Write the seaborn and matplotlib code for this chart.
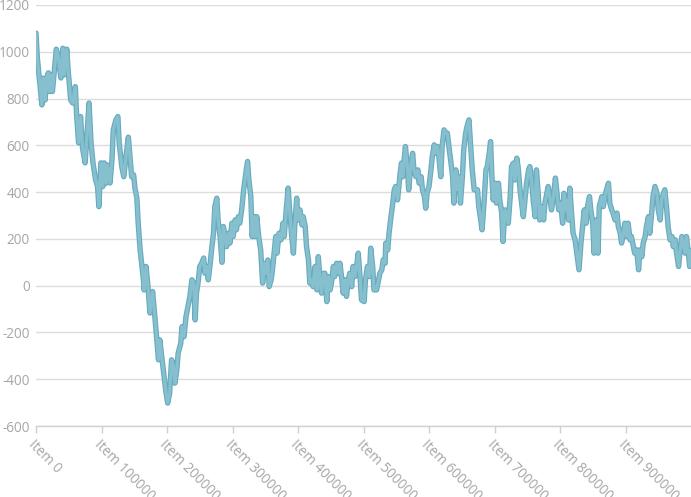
import matplotlib
matplotlib.use("Agg")
import matplotlib.pyplot as plt
import matplotlib.patheffects as pe
import seaborn as sns
import pandas as pd

# item position (thousands of items)
item_k = [0, 2, 9, 11, 14, 16, 19, 20, 23, 25, 27, 31, 34, 38, 41, 43, 47, 49, 53, 56,
          60, 62, 65, 68, 71, 75, 78, 81, 84, 87, 91, 94, 96, 99, 102, 104, 107, 109, 113, 116,
          118, 122, 125, 127, 131, 134, 138, 141, 146, 149, 151, 154, 156, 159, 164, 165, 168, 171, 174, 178,
          181, 184, 187, 189, 192, 195, 198, 201, 204, 207, 210, 212, 215, 217, 221, 223, 226, 229, 233, 235,
          238, 241, 243, 245, 248, 250, 253, 256, 258, 261, 263, 266, 268, 271, 273, 276, 278, 281, 284, 286,
          289, 291, 294, 296, 299, 301, 304, 306, 309, 311, 314, 317, 321, 323, 325, 328, 330, 333, 335, 337,
          340, 343, 346, 349, 351, 354, 356, 359, 361, 364, 366, 368, 371, 374, 377, 379, 382, 385, 388, 390,
          393, 395, 398, 400, 403, 406, 408, 411, 413, 416, 418, 421, 423, 426, 429, 431, 434, 436, 439, 441,
          444, 446, 449, 451, 454, 456, 459, 462, 464, 467, 469, 472, 474, 477, 479, 482, 484, 487, 490, 492,
          495, 497, 501, 503, 506, 509, 511, 514, 516, 520, 523, 525, 528, 530, 533, 534, 537, 539, 542, 544,
          547, 549, 552, 556, 558, 560, 562, 564, 567, 569, 572, 575, 577, 580, 583, 585, 588, 590, 593, 595,
          597, 600, 603, 605, 608, 610, 613, 615, 618, 620, 623, 625, 628, 631, 633, 636, 638, 641, 643, 646,
          648, 651, 653, 656, 658, 661, 664, 666, 669, 671, 674, 676, 679, 681, 684, 687, 689, 692, 694, 696,
          698, 701, 703, 706, 708, 711, 713, 716, 719, 721, 724, 726, 729, 731, 734, 736, 739, 742, 744, 747,
          749, 752, 754, 757, 759, 762, 764, 767, 769, 772, 775, 777, 780, 782, 785, 787, 790, 793, 796, 798,
          801, 804, 806, 809, 811, 813, 815, 818, 820, 823, 825, 829, 832, 835, 837, 840, 842, 845, 847, 850,
          852, 855, 858, 860, 864, 866, 869, 871, 874, 876, 879, 881, 884, 887, 889, 892, 894, 897, 899, 902,
          904, 907, 909, 912, 914, 917, 920, 922, 925, 927, 930, 932, 935, 937, 940, 942, 945, 948, 950, 953,
          955, 958, 960, 963, 965, 968, 971, 973, 976, 978, 981, 983, 986, 988, 991, 993, 996, 998, 999]

values = [1080, 975, 773, 887, 794, 888, 910, 830, 901, 830, 888, 1011, 980, 888, 1015, 901, 1011, 923, 794, 781,
          851, 730, 611, 723, 589, 525, 653, 781, 611, 525, 452, 424, 338, 525, 424, 525, 438, 516, 439, 538,
          666, 709, 723, 611, 509, 466, 566, 635, 466, 474, 418, 375, 268, 153, 25, -18, 82, -4, -117, -25,
          -117, -218, -317, -232, -303, -374, -446, -502, -460, -317, -346, -417, -360, -289, -246, -175, -218, -132, -75, -46,
          25, 11, -146, -32, 25, 82, 96, 118, 53, 82, 25, 96, 153, 224, 338, 374, 281, 210, 100, 253,
          210, 167, 224, 182, 267, 210, 281, 239, 295, 267, 324, 410, 495, 531, 452, 381, 210, 295, 210, 295,
          210, 153, 11, 96, 53, 110, -4, 25, 68, 153, 210, 139, 224, 196, 267, 210, 324, 417, 295, 224,
          139, 253, 374, 281, 324, 260, 295, 253, 167, 110, 11, 25, -4, 82, -18, 124, 11, -32, 53, 53,
          -68, 39, -18, 11, 82, 39, 96, 53, 96, 25, -32, 25, -46, 25, 53, -4, 82, 39, 96, 139,
          25, -61, -68, 25, 82, 39, 160, 82, -18, -18, 25, 53, 68, 110, 96, 182, 153, 224, 295, 338,
          410, 424, 367, 481, 524, 466, 538, 595, 509, 410, 509, 566, 495, 466, 495, 438, 466, 410, 381, 331,
          395, 424, 495, 552, 602, 566, 595, 552, 466, 595, 666, 652, 652, 581, 538, 466, 353, 495, 410, 466,
          353, 466, 581, 652, 680, 709, 581, 495, 410, 410, 410, 338, 281, 239, 353, 495, 509, 566, 616, 466,
          367, 438, 353, 438, 367, 310, 189, 324, 310, 267, 381, 509, 524, 452, 545, 509, 410, 338, 295, 381,
          438, 495, 509, 438, 367, 295, 495, 381, 281, 338, 281, 353, 395, 424, 367, 324, 381, 460, 381, 324,
          353, 267, 395, 324, 367, 281, 417, 295, 224, 196, 153, 68, 182, 267, 324, 267, 338, 381, 324, 267,
          139, 281, 139, 338, 381, 338, 388, 410, 438, 353, 324, 310, 281, 310, 253, 224, 182, 224, 267, 210,
          267, 196, 210, 167, 139, 153, 68, 153, 124, 182, 210, 253, 295, 224, 310, 381, 424, 395, 324, 281,
          367, 395, 410, 324, 253, 196, 210, 167, 196, 139, 82, 139, 210, 182, 139, 210, 139, 82, 150]

tick_items = [0, 100000, 200000, 300000, 400000, 500000, 600000, 700000, 800000, 900000]
tick_labels = ["Item 0", "Item 100000", "Item 200000", "Item 300000", "Item 400000",
               "Item 500000", "Item 600000", "Item 700000", "Item 800000", "Item 900000"]
y_ticks = [-600, -400, -200, 0, 200, 400, 600, 800, 1000, 1200]

df = pd.DataFrame({"item": [k * 1000 for k in item_k], "value": values})

sns.set_theme(style="white")
plt.rcParams["font.family"] = ["Open Sans", "DejaVu Sans"]

fig = plt.figure(figsize=(6.91, 4.97), dpi=100)
ax = fig.add_axes([36 / 691, 1 - 426 / 497, 1 - 36 / 691, (426 - 5) / 497])

sns.lineplot(data=df, x="item", y="value", ax=ax, estimator=None, sort=False,
             color="#86c0cf", linewidth=2.3, zorder=3,
             path_effects=[pe.Stroke(linewidth=3.9, foreground="#68abbe"), pe.Normal()])

ax.set_xlim(0, 999999)
ax.set_ylim(-600, 1200)
ax.set_yticks(y_ticks)
ax.set_yticklabels([str(v) for v in y_ticks])
ax.set_xticks(tick_items)
ax.set_xticklabels(tick_labels, rotation=-45, ha="left", va="top", rotation_mode="anchor")

ax.grid(axis="y", color="#dcdcdc", linewidth=1.0)
ax.grid(axis="x", visible=False)
ax.set_axisbelow(True)
for s in ["top", "right", "left"]:
    ax.spines[s].set_visible(False)
ax.spines["bottom"].set_color("#d0d0d0")
ax.spines["bottom"].set_linewidth(1.0)

ax.tick_params(axis="x", which="both", length=5, width=1, color="#d0d0d0",
               labelcolor="#a6a6a6", labelsize=9.8, pad=3, bottom=True)
ax.tick_params(axis="y", length=0, labelcolor="#a6a6a6", labelsize=9.8, pad=4.5)
ax.set_xlabel("")
ax.set_ylabel("")

fig.savefig("out.png", dpi=100)
